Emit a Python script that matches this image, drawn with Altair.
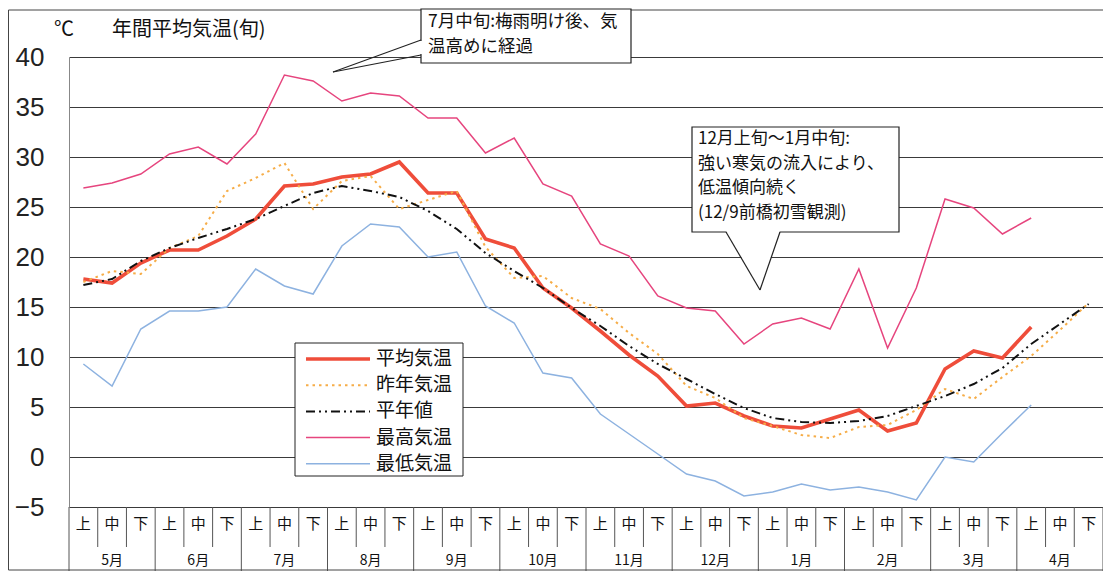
import altair as alt
import pandas as pd

# ---------------- data ----------------
dekads = ["上", "中", "下"]
months = ["5月", "6月", "7月", "8月", "9月", "10月", "11月", "12月", "1月", "2月", "3月", "4月"]

avg_temp = [17.8, 17.4, 19.4, 20.7, 20.7, 22.1, 23.8, 27.1, 27.3, 28.0, 28.3, 29.5,
            26.4, 26.4, 21.8, 20.9, 16.9, 14.9, 12.6, 10.2, 8.1, 5.1, 5.4, 4.1,
            3.1, 2.9, 3.8, 4.7, 2.6, 3.4, 8.8, 10.6, 9.9, 13.0]
prev_year = [17.5, 18.6, 18.3, 20.9, 22.1, 26.6, 27.9, 29.4, 24.8, 27.6, 28.1, 24.8,
             25.7, 26.6, 21.0, 17.9, 18.1, 15.9, 14.8, 12.4, 10.3, 7.1, 5.9, 3.9,
             3.1, 2.2, 1.9, 3.0, 3.2, 4.7, 6.8, 5.8, 8.0, 10.1, 12.7, 15.4]
normal = [17.2, 17.8, 19.6, 20.9, 21.9, 22.8, 23.8, 25.1, 26.4, 27.1, 26.6, 26.0,
          24.6, 22.8, 20.4, 18.6, 16.9, 14.9, 13.1, 11.1, 9.3, 7.8, 6.3, 4.9,
          3.9, 3.5, 3.4, 3.6, 4.1, 5.1, 6.1, 7.3, 8.9, 11.3, 13.3, 15.3]
max_temp = [26.9, 27.4, 28.3, 30.3, 31.0, 29.3, 32.3, 38.2, 37.6, 35.6, 36.4, 36.1,
            33.9, 33.9, 30.4, 31.9, 27.3, 26.1, 21.3, 20.1, 16.1, 14.9, 14.6, 11.3,
            13.3, 13.9, 12.8, 18.8, 10.9, 16.9, 25.8, 24.9, 22.3, 23.9]
min_temp = [9.3, 7.1, 12.8, 14.6, 14.6, 15.0, 18.8, 17.1, 16.3, 21.1, 23.3, 23.0,
            20.0, 20.5, 15.1, 13.4, 8.4, 7.9, 4.3, 2.3, 0.3, -1.7, -2.4, -3.9,
            -3.5, -2.7, -3.3, -3.0, -3.5, -4.3, 0.0, -0.5, 2.4, 5.2]

series_names = ["平均気温", "昨年気温", "平年値", "最高気温", "最低気温"]
series_values = [avg_temp, prev_year, normal, max_temp, min_temp]
y_ticks = [-5, 0, 5, 10, 15, 20, 25, 30, 35, 40]

title_unit = "℃"
title_text = "年間平均気温(旬)"
note1 = ["7月中旬:梅雨明け後、気", "温高めに経過"]
note2 = ["12月上旬～1月中旬:", "強い寒気の流入により、", "低温傾向続く", "(12/9前橋初雪観測)"]

# ---------------- styles ----------------
styles = {
    "平均気温": dict(color="#ef4d3a", strokeWidth=3.6),
    "昨年気温": dict(color="#f6ad48", strokeWidth=2.0, strokeDash=[2.5, 4]),
    "平年値": dict(color="#111111", strokeWidth=2.0, strokeDash=[9, 4, 2, 4, 2, 4]),
    "最高気温": dict(color="#e6457e", strokeWidth=1.5),
    "最低気温": dict(color="#8db2e0", strokeWidth=1.5),
}
JP = "Noto Sans CJK JP"
W, H = 1034, 450
xs = alt.Scale(domain=[0, 36], nice=False, zero=False)
ys = alt.Scale(domain=[-5, 40], nice=False, zero=False)
y_axis = alt.Axis(values=y_ticks, title=None, labelFontSize=26, labelFont="Liberation Sans",
                  labelColor="#222", labelPadding=25, ticks=False, tickSize=0,
                  domain=True, domainColor="#888", grid=True, gridColor="#3a3a3a",
                  gridWidth=1, gridOpacity=1)
one = pd.DataFrame({"a": [0]})

layers = []

# data lines
for name, vals in zip(series_names, series_values):
    df = pd.DataFrame({"pos": [i + 0.5 for i in range(len(vals))], "val": vals, "series": name})
    layers.append(alt.Chart(df).mark_line(**styles[name]).encode(
        x=alt.X("pos:Q", scale=xs, axis=None),
        y=alt.Y("val:Q", scale=ys, axis=y_axis)))

# x table: separators and labels
dek_sep = pd.DataFrame({"pos": [k for k in range(1, 36) if k % 3 != 0]})
mon_sep = pd.DataFrame({"pos": [3 * m for m in range(0, 13)]})
dek_lab = pd.DataFrame({"pos": [i + 0.5 for i in range(36)], "label": [dekads[i % 3] for i in range(36)]})
mon_lab = pd.DataFrame({"pos": [3 * m + 1.5 for m in range(12)], "label": months})

layers.append(alt.Chart(dek_sep).mark_rule(color="#555", strokeWidth=1).encode(
    x=alt.X("pos:Q", scale=xs, axis=None), y=alt.value(H), y2=alt.value(H + 40)))
layers.append(alt.Chart(mon_sep).mark_rule(color="#555", strokeWidth=1).encode(
    x=alt.X("pos:Q", scale=xs, axis=None), y=alt.value(H), y2=alt.value(H + 64)))
layers.append(alt.Chart(dek_lab).mark_text(font=JP, fontSize=15, color="#111").encode(
    x=alt.X("pos:Q", scale=xs, axis=None), y=alt.value(H + 17), text="label:N"))
layers.append(alt.Chart(mon_lab).mark_text(font=JP, fontSize=14, color="#111").encode(
    x=alt.X("pos:Q", scale=xs, axis=None), y=alt.value(H + 54), text="label:N"))
# bottom and outer frame
layers.append(alt.Chart(one).mark_rule(color="#444", strokeWidth=1).encode(
    x=alt.value(-60.5), x2=alt.value(W), y=alt.value(H + 63)))
layers.append(alt.Chart(one).mark_rule(color="#444", strokeWidth=1).encode(
    x=alt.value(-60.5), y=alt.value(-47), y2=alt.value(H + 63)))
layers.append(alt.Chart(one).mark_rule(color="#444", strokeWidth=1).encode(
    x=alt.value(-60.5), x2=alt.value(W), y=alt.value(-47)))

# title
layers.append(alt.Chart(one).mark_text(font=JP, fontSize=20, align="left", baseline="middle", color="#111").encode(
    x=alt.value(-15), y=alt.value(-27), text=alt.value(title_unit)))
layers.append(alt.Chart(one).mark_text(font=JP, fontSize=20, align="left", baseline="middle", color="#111").encode(
    x=alt.value(43), y=alt.value(-27), text=alt.value(title_text)))

# legend (manual)
layers.append(alt.Chart(one).mark_rect(fill="white", stroke="#222", strokeWidth=1).encode(
    x=alt.value(226), x2=alt.value(394), y=alt.value(286), y2=alt.value(419)))
for r, name in enumerate(series_names):
    yy = 302 + 26.2 * r
    st = dict(styles[name])
    layers.append(alt.Chart(one).mark_rule(**st).encode(
        x=alt.value(237), x2=alt.value(301), y=alt.value(yy)))
    layers.append(alt.Chart(one).mark_text(font=JP, fontSize=19, align="left", baseline="middle", color="#111").encode(
        x=alt.value(307), y=alt.value(yy), text=alt.value(name)))

# callout 1
layers.append(alt.Chart(one).mark_rect(fill="white", stroke="#222", strokeWidth=1.2).encode(
    x=alt.value(352), x2=alt.value(562), y=alt.value(-48), y2=alt.value(6)))
layers.append(alt.Chart(one).mark_rule(color="white", strokeWidth=3).encode(
    x=alt.value(352), y=alt.value(-16), y2=alt.value(-3)))
for (x0, y0) in [(352, -17), (352, -2)]:
    layers.append(alt.Chart(one).mark_rule(color="#222", strokeWidth=1.2).encode(
        x=alt.value(x0), y=alt.value(y0), x2=alt.value(264), y2=alt.value(15)))
for j, line in enumerate(note1):
    layers.append(alt.Chart(one).mark_text(font=JP, fontSize=17.5, align="left", baseline="middle", color="#111").encode(
        x=alt.value(359), y=alt.value(-35 + 25 * j), text=alt.value(line)))

# callout 2
layers.append(alt.Chart(one).mark_rect(fill="white", stroke="#222", strokeWidth=1.2).encode(
    x=alt.value(623), x2=alt.value(830), y=alt.value(70), y2=alt.value(175)))
layers.append(alt.Chart(one).mark_point(shape="M-0.9,-0.99L0.9,-0.99L0.233,0.983Z", size=3600, filled=True,
                                        fill="white", opacity=1, strokeWidth=0).encode(
    x=alt.value(684), y=alt.value(203.5)))
for x0 in [657, 711]:
    layers.append(alt.Chart(one).mark_rule(color="#222", strokeWidth=1.2).encode(
        x=alt.value(x0), y=alt.value(175), x2=alt.value(691), y2=alt.value(233)))
for j, line in enumerate(note2):
    layers.append(alt.Chart(one).mark_text(font=JP, fontSize=17, align="left", baseline="middle", color="#111").encode(
        x=alt.value(629), y=alt.value(82 + 24.7 * j), text=alt.value(line)))

chart = alt.layer(*layers).properties(
    width=W, height=H,
    padding={"left": 61, "top": 49, "right": 0, "bottom": 64},
    autosize=alt.AutoSizeParams(type="none"),
    background="white",
).configure_view(strokeWidth=0)

chart.save("out.html", embed_options={"renderer": "svg", "actions": False})
